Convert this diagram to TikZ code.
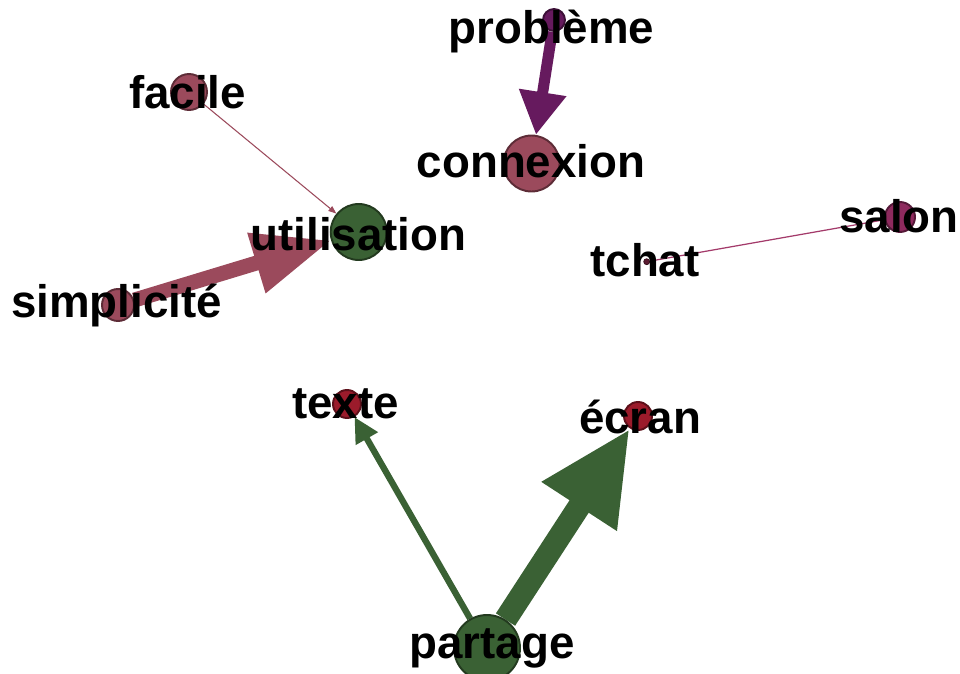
\documentclass[tikz,border=0pt]{standalone}
\usepackage{fontspec}
\setmainfont{Liberation Sans}
\usetikzlibrary{arrows.meta}

\definecolor{purp}{HTML}{661A5E}
\definecolor{mauve}{HTML}{9B4A5C}
\definecolor{plum}{HTML}{8E2A5E}
\definecolor{wine}{HTML}{5A1A30}
\definecolor{leaf}{HTML}{3A6134}
\definecolor{berry}{HTML}{9B1B2B}
\definecolor{pinkline}{HTML}{A33A6A}

\pgfdeclarelayer{edges}
\pgfsetlayers{edges,main}

\begin{document}
\begin{tikzpicture}[x=0.02cm, y=-0.02cm, line cap=round,
	vertex/.style={circle, draw=#1!60!black, fill=#1, line width=1.1pt, inner sep=0pt},
	word/.style={anchor=base, inner sep=0pt, font=\fontsize{26}{26}\selectfont\bfseries}]
%		\draw (0,0) grid (960,673);
		\useasboundingbox (0,0) rectangle (960,673);
		
		\node[vertex=purp, minimum size=0.44cm] (probleme) at (554,20) {};
		\node[vertex=mauve, minimum size=1.12cm] (connexion) at (531.5,163.5) {};
		\node[vertex=mauve, minimum size=0.72cm] (facile) at (189,92) {};
		\node[vertex=leaf, minimum size=1.12cm] (utilisation) at (358.7,232) {};
		\node[vertex=mauve, minimum size=0.64cm] (simplicite) at (118,305) {};
		\node[vertex=plum, minimum size=0.60cm] (salon) at (900,217) {};
		\node[vertex=wine, minimum size=0.12cm, line width=0.4pt] (tchat) at (646.7,261.7) {};
		\node[vertex=berry, minimum size=0.56cm] (texte) at (347,404) {};
		\node[vertex=berry, minimum size=0.56cm] (ecran) at (638,416) {};
		\node[vertex=leaf, minimum size=1.32cm] (partage) at (487,648) {};
		
		\begin{pgfonlayer}{edges}
		\draw[purp, line width=6.3pt, -{Triangle[length=0.86cm, width=0.9cm]}] (probleme) -- (connexion);
		\draw[mauve, line width=0.6pt, -{Triangle[length=0.16cm, width=0.12cm]}] (facile) -- (utilisation);
		\draw[mauve, line width=8.5pt, -{Triangle[length=1.56cm, width=1.18cm]}] (simplicite) -- (utilisation);
		\draw[pinkline, line width=0.7pt] (tchat) -- (salon);
		\draw[leaf, line width=3.6pt, -{Triangle[length=0.5cm, width=0.48cm]}] (partage) -- (texte);
		\draw[leaf, line width=13pt, -{Triangle[length=1.86cm, width=1.66cm]}] (partage) -- (ecran);
		\end{pgfonlayer}
		
		\node[word] (lprobleme) at (551.5,43) {problème};
		\node[word] (lconnexion) at (531,177) {connexion};
		\node[word] (lfacile) at (187.5,108) {facile};
		\node[word] (lutilisation) at (358.5,250) {utilisation};
		\node[word] (lsimplicite) at (116.5,317) {simplicité};
		\node[word] (lsalon) at (899,232) {salon};
		\node[word] (ltchat) at (645,276) {tchat};
		\node[word] (ltexte) at (345.5,418) {texte};
		\node[word] (lecran) at (640,433) {écran};
		\node[word] (lpartage) at (492,658) {partage};
	\end{tikzpicture}
\end{document}
